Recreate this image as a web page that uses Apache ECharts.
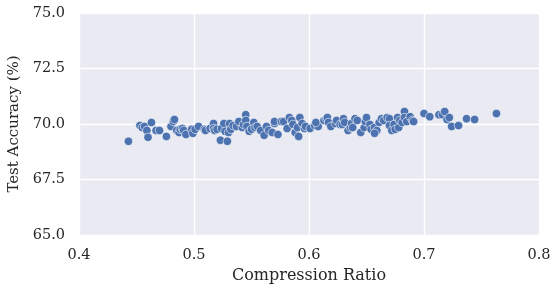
<!DOCTYPE html>
<html><head><meta charset="utf-8">
<script src="https://cdn.jsdelivr.net/npm/echarts@6/dist/echarts.min.js"></script>
<style>html,body{margin:0;padding:0;background:#fff}#c{width:553px;height:284px}</style>
</head><body><div id="c"></div>
<script>
const compressionRatio = [0.443,0.453,0.455,0.457,0.459,0.460,0.463,0.467,0.470,0.476,0.480,0.482,0.483,0.485,0.487,0.488,0.490,0.491,0.493,0.498,0.499,0.501,0.504,0.509,0.510,0.514,0.517,0.517,0.518,0.520,0.523,0.524,0.526,0.527,0.529,0.530,0.531,0.532,0.534,0.537,0.539,0.542,0.543,0.545,0.545,0.546,0.548,0.550,0.552,0.553,0.555,0.558,0.561,0.563,0.565,0.568,0.570,0.570,0.573,0.576,0.578,0.581,0.583,0.585,0.586,0.588,0.590,0.591,0.592,0.594,0.596,0.597,0.601,0.605,0.608,0.606,0.613,0.615,0.616,0.617,0.619,0.623,0.624,0.627,0.629,0.630,0.631,0.634,0.636,0.637,0.638,0.640,0.642,0.645,0.648,0.649,0.650,0.653,0.654,0.657,0.659,0.657,0.661,0.663,0.665,0.668,0.670,0.670,0.672,0.674,0.675,0.677,0.678,0.679,0.681,0.683,0.683,0.685,0.688,0.690,0.691,0.700,0.705,0.713,0.716,0.718,0.720,0.722,0.724,0.730,0.737,0.744,0.763];
const testAccuracy = [69.22,69.93,69.84,69.89,69.71,69.40,70.07,69.71,69.71,69.44,69.89,70.11,70.20,69.71,69.62,69.76,69.80,69.71,69.53,69.76,69.58,69.76,69.89,69.76,69.71,69.80,70.02,69.80,69.71,69.76,69.27,69.80,70.02,69.67,69.22,69.62,70.02,69.76,69.93,69.89,70.11,69.84,69.98,70.42,70.16,69.89,69.67,69.76,70.07,69.84,69.89,69.71,69.49,69.89,69.71,69.62,70.02,70.11,69.53,70.11,70.11,69.80,70.29,70.16,69.98,69.62,69.84,69.44,70.29,70.02,69.80,69.89,69.80,69.93,69.89,70.07,70.16,70.24,70.29,70.07,69.89,70.02,70.16,69.98,69.98,70.24,70.07,69.71,69.84,70.02,69.84,70.24,70.16,69.62,69.84,70.11,70.29,69.98,69.76,69.84,69.71,69.58,70.07,70.24,70.16,70.29,70.24,69.93,69.71,69.98,69.76,70.29,69.84,70.16,70.07,70.56,70.29,70.11,70.33,70.16,70.11,70.47,70.33,70.42,70.42,70.56,70.20,70.29,69.89,69.93,70.24,70.20,70.47];
const xTicks = [0.4, 0.5, 0.6, 0.7, 0.8];
const yTicks = [65.0, 67.5, 70.0, 72.5, 75.0];
const xLabel = 'Compression Ratio';
const yLabel = 'Test Accuracy (%)';

const pts = compressionRatio.map((x, i) => [x, testAccuracy[i]]);
const font = 'DejaVu Serif';
const chart = echarts.init(document.getElementById('c'), null, {renderer: 'canvas'});
chart.setOption({
  animation: false,
  backgroundColor: '#ffffff',
  grid: {left: 79, right: 14, top: 13, bottom: 49, containLabel: false, outerBoundsMode: 'none',
         show: true, backgroundColor: '#EAEAF2', borderWidth: 0},
  xAxis: {
    type: 'value', min: xTicks[0], max: xTicks[xTicks.length-1], interval: 0.1,
    name: xLabel, nameLocation: 'middle', nameGap: 30,
    nameTextStyle: {fontFamily: font, fontSize: 16, color: '#262626'},
    axisLine: {show: false}, axisTick: {show: false},
    axisLabel: {fontFamily: font, fontSize: 14.5, color: '#262626', margin: 13, formatter: v => v.toFixed(1)},
    splitLine: {show: true, lineStyle: {color: '#ffffff', width: 1.3}}
  },
  yAxis: {
    type: 'value', min: yTicks[0], max: yTicks[yTicks.length-1], interval: 2.5,
    name: yLabel, nameLocation: 'middle', nameGap: 47,
    nameTextStyle: {fontFamily: font, fontSize: 15, color: '#262626'},
    axisLine: {show: false}, axisTick: {show: false},
    axisLabel: {fontFamily: font, fontSize: 14.5, color: '#262626', margin: 14, formatter: v => v.toFixed(1)},
    splitLine: {show: true, lineStyle: {color: '#ffffff', width: 1.3}}
  },
  series: [{
    type: 'scatter', data: pts, symbolSize: 8.5,
    itemStyle: {color: '#4C72B0', borderColor: '#ffffff', borderWidth: 0.6, opacity: 1}
  }]
});
</script></body></html>
